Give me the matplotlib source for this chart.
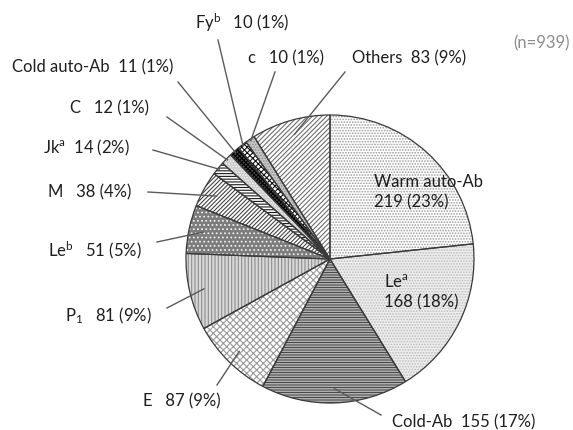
import numpy as np
import matplotlib
matplotlib.use('Agg')
import matplotlib.pyplot as plt

plt.rcParams['font.family'] = ['Lato', 'DejaVu Sans']
plt.rcParams['mathtext.fontset'] = 'custom'
plt.rcParams['mathtext.rm'] = 'Lato'
plt.rcParams['mathtext.default'] = 'regular'
plt.rcParams['hatch.linewidth'] = 0.8

# data, clockwise from 12 o'clock
labels = ['Warm auto-Ab', 'Le$^{a}$', 'Cold-Ab', 'E', 'P$_{1}$', 'Le$^{b}$', 'M',
          'Jk$^{a}$', 'C', 'Cold auto-Ab', 'Fy$^{b}$', 'c', 'Others']
counts = [219, 168, 155, 87, 81, 51, 38, 14, 12, 11, 10, 10, 83]
pcts = [23, 18, 17, 9, 9, 5, 4, 2, 1, 1, 1, 1, 9]
n_total = 939

# fill styles per wedge: face, hatch, hatch colour
faces = ['white', '#ededed', 'white', 'white', '#d8d8d8', '#7c7c7c', 'white',
         'white', '#cccccc', '#4a4a4a', 'white', '#c8c8c8', 'white']
hatches = ['......', '......', '-' * 10, 'x' * 5, '|' * 5, '....', '/' * 8,
           '-' * 6, '......', 'x' * 8, 'x' * 6, '.' * 6, '/' * 7]
hcolors = ['#9a9a9a', '#bdbdbd', '#4a4a4a', '#9a9a9a', '#8e8e8e', '#ececec', '#444444',
           '#1a1a1a', '#f2f2f2', '#000000', '#111111', '#8a8a8a', '#707070']

W, H = 573, 430
cx, cy, R = 330, H - 259, 144

fig = plt.figure(figsize=(W / 100, H / 100), dpi=100)
ax = fig.add_axes([0, 0, 1, 1])

wedges, _ = ax.pie(counts, startangle=90, counterclock=False, center=(cx, cy),
                   radius=R, colors=faces, wedgeprops=dict(linewidth=0))
for w, h, hc in zip(wedges, hatches, hcolors):
    w.set_hatch(h)
    w.set_edgecolor(hc)
ax.pie(counts, startangle=90, counterclock=False, center=(cx, cy), radius=R,
       wedgeprops=dict(fill=False, edgecolor='#3a3a3a', linewidth=0.9))

ax.set_xlim(0, W)
ax.set_ylim(0, H)
ax.set_aspect('auto')
ax.axis('off')

txt = dict(fontsize=12, color='#1e1e1e', va='center', ha='left')

# outside labels: text left/centre (px, top origin), leader start (px), gap
outside = {
    'Fy$^{b}$': ((195, 23), (218, 40), '   '),
    'c': ((248, 58), (275, 72), '   '),
    'Others': ((352, 58), (345, 72), '  '),
    'Cold auto-Ab': ((12, 67), (178, 82), '  '),
    'C': ((70, 108), (167, 117), '   '),
    'Jk$^{a}$': ((43, 148), (153, 150), '  '),
    'M': ((48, 192), (148, 192), '   '),
    'Le$^{b}$': ((48, 250), (157, 242), '   '),
    'P$_{1}$': ((65, 316), (167, 308), '   '),
    'E': ((143, 401), (217, 385), '   '),
    'Cold-Ab': ((392, 422), (381, 415), '  '),
}

for w, lab, n, p in zip(wedges, labels, counts, pcts):
    if lab not in outside:
        continue
    (tx, ty), (lx, ly), gap = outside[lab]
    ax.text(tx, H - ty, lab + gap + f'{n} ({p}%)', **txt)
    mid = np.deg2rad((w.theta1 + w.theta2) / 2)
    frac = 0.99 if n < 20 else 0.9
    ex = cx + R * frac * np.cos(mid)
    ey = cy + R * frac * np.sin(mid)
    ax.plot([lx, ex], [H - ly, ey], color='#5a5a5a', lw=1.0)

# inside labels
ax.text(374, H - 192, labels[0] + '\n' + f'{counts[0]} ({pcts[0]}%)', linespacing=1.3, **txt)
ax.text(384, H - 292, labels[1] + '\n' + f'{counts[1]} ({pcts[1]}%)', linespacing=1.3, **txt)

ax.text(513, H - 43, f'(n={n_total})', fontsize=12, color='#8c8c8c', va='center', ha='left')

fig.savefig('out.png', dpi=100)
